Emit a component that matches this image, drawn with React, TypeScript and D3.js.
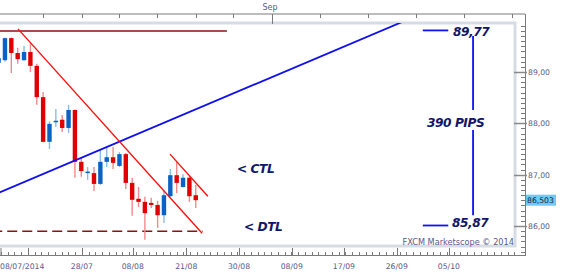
import React from 'react';
import * as d3 from 'd3';

// OHLC values (daily candles)
const candleOpen = [89.18, 89.23, 89.66, 89.37, 89.23, 89.39, 89.12, 88.51, 87.64, 88.03, 88.07, 87.91, 88.26, 87.25, 87.03, 87.03, 86.82, 87.25, 87.34, 87.17, 87.40, 86.84, 86.53, 86.47, 86.45, 86.41, 86.21, 86.58, 86.99, 86.76, 86.94, 86.60];
const candleHigh = [89.28, 89.67, 89.67, 89.47, 89.51, 89.56, 89.16, 88.61, 88.04, 88.28, 88.16, 88.36, 88.27, 87.34, 87.15, 87.15, 87.48, 87.54, 87.54, 87.44, 87.42, 86.94, 86.76, 86.57, 86.55, 86.49, 86.70, 87.11, 87.25, 87.01, 86.97, 86.80];
const candleLow = [89.16, 89.20, 88.98, 89.16, 89.22, 89.00, 88.36, 87.63, 87.50, 87.93, 87.83, 87.81, 86.94, 86.96, 86.90, 86.68, 86.80, 87.15, 87.11, 87.15, 86.72, 86.20, 86.37, 85.73, 86.35, 85.96, 86.06, 86.57, 86.64, 86.75, 86.47, 86.35];
const candleClose = [89.27, 89.66, 89.37, 89.25, 89.39, 89.12, 88.51, 87.64, 87.99, 88.05, 87.91, 88.26, 87.25, 87.07, 87.06, 86.82, 87.25, 87.34, 87.23, 87.40, 86.84, 86.51, 86.47, 86.25, 86.41, 86.21, 86.60, 86.99, 86.84, 86.94, 86.58, 86.503];

const lastPrice = 86.503;

// bottom axis labels (at fractional candle index positions)
const bottomTickIdx = [4.6, 13.1, 21.1, 29.5, 37.8, 46.1, 54.3, 62.6, 70.8];
const bottomTickLabels = ['08/07/2014', '28/07', '08/08', '21/08', '30/08', '08/09', '17/09', '26/09', '05/10'];
const topTickIdx = [7, 13.1, 18.9, 24.9, 31, 36.9, 43, 50.5, 58.1, 65.6, 73.2, 80.7];
const topMonthIdx = 43;
const topMonthLabel = 'Sep';
const priceTicks = [86, 87, 88, 89];
const priceTickLabels = ['86,00', '87,00', '88,00', '89,00'];

// drawn lines (index, price)
const resistanceLevel = 89.80;
const resistanceSpan = [-1, 35.9];
const supportLevel = 85.90;
const supportSpan = [-1, 32.1];
const dtlLine = [[3.05, 89.84], [32.0, 85.86]];
const ctlLine = [[26.95, 87.40], [32.9, 86.58]];
const blueTrend = [[-0.5, 86.62], [64.5, 90.03]];
const rangeTop = 89.81;
const rangeBottom = 86.01;
const rangeMarkSpan = [66.7, 70.7];
const rangeVertIdx = 74.6;
const rangeVertSegments = [[89.70, 88.26], [87.87, 86.21]];

const W = 567, H = 274;
const plotLeft = 0, plotRight = 515, plotTop = 23, plotBottom = 246;
const axisRight = 525, topAxisY = 14, bottomAxisY = 256;

const x = d3.scaleLinear().domain([0, 80]).range([-1.4, -1.4 + 80 * 6.36]);
const y = d3.scaleLinear().domain([86, 89]).range([226, 72]);

const RED = '#e00000';
const RED_WICK = '#f08a8a';
const BLUE = '#0a62c6';
const BLUE_WICK = '#8fbbe8';
const NAVY = '#10166a';
const AXIS = '#7a7a7a';
const LABEL = '#5a5a8c';

export default function App() {
  const line = d3.line<number[]>().x(d => x(d[0])).y(d => y(d[1]));
  const bodyW = 4.4;

  const minorPrice: number[] = d3.range(855, 900).map(v => v / 10);

  const step = bottomTickIdx[1] - bottomTickIdx[0];
  const minorBottom: number[] = [];
  for (let t = bottomTickIdx[0] - step; t < 82; t += step / 8) minorBottom.push(t);

  const annoFont = { fontFamily: '"DejaVu Sans", Verdana, sans-serif', fontWeight: 700, fontStyle: 'italic', fontSize: 12.2, letterSpacing: -0.45, fill: NAVY } as const;
  const axisFont = { fontFamily: '"DejaVu Sans", Verdana, sans-serif', fontSize: 7.7, fill: LABEL } as const;

  return (
    <svg width={W} height={H} style={{ position: 'absolute', left: 0, top: 0, background: '#fff' }}>
      <defs>
        <clipPath id="plotClip">
          <rect x={plotLeft} y={plotTop} width={plotRight - plotLeft} height={plotBottom - plotTop} />
        </clipPath>
      </defs>
      <rect x={0} y={0} width={W} height={H} fill="#fff" />

      <rect x={plotLeft - 3} y={plotTop} width={plotRight - plotLeft + 3} height={plotBottom - plotTop} fill="none" stroke="#d6dce4" strokeWidth={3} />

      {/* top axis */}
      <line x1={0} x2={axisRight} y1={topAxisY} y2={topAxisY} stroke={AXIS} strokeWidth={1} />
      {topTickIdx.map((t, i) => (
        <line key={'tt' + i} x1={Math.round(x(t)) + 0.5} x2={Math.round(x(t)) + 0.5} y1={topAxisY} y2={t === topMonthIdx ? plotTop + 1 : topAxisY + 4} stroke={AXIS} />
      ))}
      <text x={x(topMonthIdx) - 2} y={10} textAnchor="middle" {...axisFont} fontSize={8}>{topMonthLabel}</text>

      {/* right axis */}
      <line x1={axisRight + 0.5} x2={axisRight + 0.5} y1={topAxisY} y2={bottomAxisY} stroke={AXIS} />
      {minorPrice.filter(v => y(v) > plotTop - 1 && y(v) < bottomAxisY).map((v, i) => (
        <line key={'mp' + i} x1={axisRight - 4} x2={axisRight} y1={Math.round(y(v)) + 0.5} y2={Math.round(y(v)) + 0.5} stroke={AXIS} />
      ))}
      {priceTicks.map((v, i) => (
        <g key={'pt' + i}>
          <line x1={plotRight - 1} x2={axisRight + 2} y1={Math.round(y(v)) + 0.5} y2={Math.round(y(v)) + 0.5} stroke="#8a8a8a" strokeWidth={1.5} />
          <text x={axisRight + 3} y={y(v) + 3} {...axisFont}>{priceTickLabels[i]}</text>
        </g>
      ))}
      <rect x={axisRight + 1} y={y(lastPrice) - 5.5} width={30} height={11} fill="#6fcbf3" />
      <text x={axisRight + 2} y={y(lastPrice) + 3} {...axisFont} fill="#1a1a50">{String(lastPrice).replace('.', ',')}</text>

      {/* bottom axis */}
      <line x1={0} x2={axisRight} y1={bottomAxisY - 0.5} y2={bottomAxisY - 0.5} stroke={AXIS} />
      {minorBottom.filter(t => x(t) > 0 && x(t) < axisRight).map((t, i) => (
        <line key={'mb' + i} x1={Math.round(x(t)) + 0.5} x2={Math.round(x(t)) + 0.5} y1={bottomAxisY - 4} y2={bottomAxisY} stroke={AXIS} />
      ))}
      <line x1={1} x2={1} y1={plotBottom + 2} y2={bottomAxisY} stroke={AXIS} />
      {bottomTickIdx.map((t, i) => (
        <g key={'bt' + i}>
          <line x1={Math.round(x(t)) + 0.5} x2={Math.round(x(t)) + 0.5} y1={plotBottom + 2} y2={bottomAxisY} stroke={AXIS} />
          <text x={i === 0 ? 0 : x(t)} y={bottomAxisY + 13} textAnchor={i === 0 ? 'start' : 'middle'} {...axisFont}>{bottomTickLabels[i]}</text>
        </g>
      ))}

      <g clipPath="url(#plotClip)">
        <line x1={x(resistanceSpan[0])} x2={x(resistanceSpan[1])} y1={y(resistanceLevel)} y2={y(resistanceLevel)} stroke="#8e1010" strokeWidth={1.6} />
        <line x1={x(supportSpan[0])} x2={x(supportSpan[1])} y1={y(supportLevel)} y2={y(supportLevel)} stroke="#8e1010" strokeWidth={1.5} strokeDasharray="10,5" />

        {candleOpen.map((o, i) => {
          const c = candleClose[i];
          const up = c >= o;
          const cx = x(i);
          const top = y(Math.max(o, c));
          const bot = y(Math.min(o, c));
          return (
            <g key={'c' + i}>
              <line x1={cx} x2={cx} y1={y(candleHigh[i])} y2={y(candleLow[i])} stroke={up ? BLUE_WICK : RED_WICK} strokeWidth={1.4} />
              <rect x={cx - bodyW / 2} y={top} width={bodyW} height={Math.max(1.5, bot - top)} fill={up ? BLUE : RED} />
            </g>
          );
        })}

        <path d={line(blueTrend) || ''} stroke="#1010f0" strokeWidth={1.8} fill="none" />
        <path d={line(dtlLine) || ''} stroke="#ff1010" strokeWidth={1.4} fill="none" />
        <path d={line(ctlLine) || ''} stroke="#ff1010" strokeWidth={1.4} fill="none" />

        <line x1={x(rangeMarkSpan[0])} x2={x(rangeMarkSpan[1])} y1={y(rangeTop)} y2={y(rangeTop)} stroke="#1010f0" strokeWidth={1.8} />
        <line x1={x(rangeMarkSpan[0])} x2={x(rangeMarkSpan[1])} y1={y(rangeBottom)} y2={y(rangeBottom)} stroke="#1010f0" strokeWidth={1.8} />
        {rangeVertSegments.map((s, i) => (
          <line key={'rv' + i} x1={x(rangeVertIdx)} x2={x(rangeVertIdx)} y1={y(s[0])} y2={y(s[1])} stroke="#1010f0" strokeWidth={1.8} />
        ))}
      </g>

      {/* annotations */}
      <text x={453} y={35.5} {...annoFont}>89,77</text>
      <text x={427} y={127} {...annoFont}>390 PIPS</text>
      <text x={452} y={226.5} {...annoFont}>85,87</text>
      <text x={237} y={173} {...annoFont}>&lt; CTL</text>
      <text x={244} y={231} {...annoFont}>&lt; DTL</text>
      <text x={514} y={245} textAnchor="end" {...axisFont} fontSize={8.2}>FXCM Marketscope © 2014</text>
    </svg>
  );
}
